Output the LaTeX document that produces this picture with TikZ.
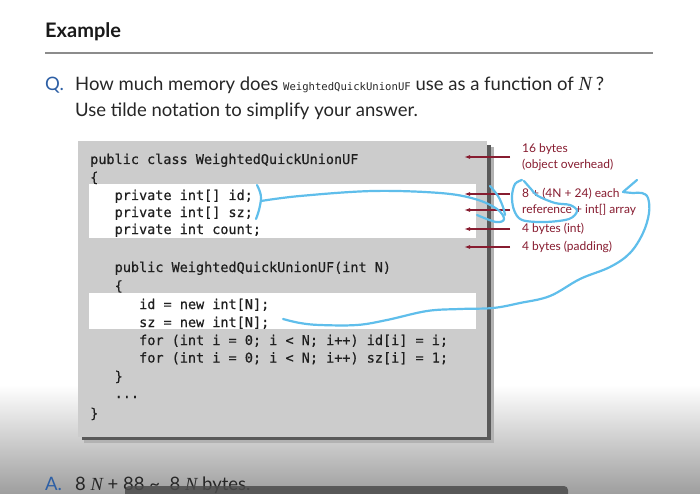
\documentclass[tikz,border=0pt]{standalone}
\usepackage{fontspec}
\setmainfont{Lato}
\newfontfamily\codefont[FakeBold=0.5]{DejaVu Sans Mono}
\newfontfamily\smallcode{DejaVu Sans Mono}
\newfontfamily\varfont{Liberation Serif}
\usetikzlibrary{arrows.meta}

\definecolor{boxgray}{RGB}{204,204,204}
\definecolor{memred}{RGB}{135,28,48}
\definecolor{qblue}{RGB}{45,95,165}
\definecolor{pen}{RGB}{95,190,235}

\tikzset{
  codeline/.style={anchor=base west, inner sep=0pt, font=\codefont\fontsize{13.5}{16}\selectfont, text=black!88},
  memlabel/.style={anchor=west, inner sep=0pt, align=left, font=\fontsize{12}{16}\selectfont, text=memred},
  memarrow/.style={draw=memred, line width=1.3pt, -{Latex[length=6pt,width=4pt]}},
  slidetext/.style={anchor=base west, inner sep=0pt, font=\fontsize{18.5}{22}\selectfont, text=black!85},
  penstroke/.style={draw=pen, line width=2.2pt, line cap=round, line join=round}
}

\begin{document}
\begin{tikzpicture}[x=1pt,y=-1pt]
\useasboundingbox (0,0) rectangle (700,494);
\fill[white] (0,0) rectangle (700,494);
\shade[top color=white, bottom color=black!38] (0,385) rectangle (700,494);

% heading and rule
\node[anchor=base west, inner sep=0pt, font=\fontsize{20}{24}\selectfont\bfseries, text=black!90] (title) at (45,38) {Example};
\draw[black!45, line width=1.2pt] (45,53) -- (653,53);

% question
\node[slidetext, text=qblue] (q) at (45,91) {Q.};
\node[slidetext] (qline) at (75,91) {How much memory does {\smallcode\fontsize{10.6}{12}\selectfont WeightedQuickUnionUF} use as a~function of~{\varfont\itshape\fontsize{20}{22}\selectfont N}\hspace{4pt}?};
\node[slidetext] (qline2) at (75,117) {Use tilde notation to simplify your answer.};

% code panel with drop shadow
\fill[black!30] (84,147) rectangle (494,443);
\fill[black!65] (82,145) rectangle (491,440);
\fill[boxgray] (78,141) rectangle (487,437);
\fill[white] (89,184) rectangle (476,238);
\fill[white] (89,293) rectangle (476,329);

\node[codeline] (c1)  at (90,164)    {public class WeightedQuickUnionUF};
\node[codeline] (c2)  at (90,182)    {\{};
\node[codeline] (c3)  at (114.5,200) {private int[] id;};
\node[codeline] (c4)  at (114.5,217) {private int[] sz;};
\node[codeline] (c5)  at (114.5,234) {private int count;};
\node[codeline] (c6)  at (114.5,272) {public WeightedQuickUnionUF(int N)};
\node[codeline] (c7)  at (114.5,290.5) {\{};
\node[codeline] (c8)  at (139,309)   {id = new int[N];};
\node[codeline] (c9)  at (139,327)   {sz = new int[N];};
\node[codeline] (c10) at (139,345)   {for (int i = 0; i < N; i++) id[i] = i;};
\node[codeline] (c11) at (139,362.5) {for (int i = 0; i < N; i++) sz[i] = 1;};
\node[codeline] (c12) at (114.5,381) {\}};
\node[codeline] (c13) at (114.5,398) {...};
\node[codeline] (c14) at (90,418)    {\}};

% memory annotations
\coordinate (tipx) at (464,0);
\node[memlabel] (m1) at (522,157) {16 bytes\\(object overhead)};
\node[memlabel] (m2) at (522,194) {8 + (4N + 24) each};
\node[memlabel] (m3) at (522,210) {reference + int[] array};
\node[memlabel] (m4) at (522,229) {4 bytes (int)};
\node[memlabel] (m5) at (522,247) {4 bytes (padding)};
\foreach \m in {m1,m2,m3,m4,m5}
  \draw[memarrow] ([xshift=-12pt]\m.west) -- (\m.west -| tipx);

% answer
\node[slidetext, text=qblue] (a) at (45,490) {A.};
\node[slidetext] (aline) at (75,490) {8 {\varfont\itshape N} + 88 \textasciitilde\ \ 8 {\varfont\itshape N} bytes.};

% caption bar
\fill[black!70, opacity=0.85, rounded corners=4pt] (125,486) rectangle (568,500);

% hand-drawn pen marks
\draw[penstroke] plot[smooth, tension=0.6] coordinates {(257,185) (260,192) (261,199) (259,210) (256,219)};
\draw[penstroke] plot[smooth, tension=0.6] coordinates {(261,201) (300,196) (373,191) (440,193) (475,199) (497,209) (504,219) (496,222) (477,215)};
\draw[penstroke] plot[smooth, tension=0.6] coordinates {(490,186) (498,196) (503,207) (505,215)};
\draw[penstroke] plot[smooth, tension=0.55] coordinates {(524,181) (531,189) (538,196) (555,203) (570,205) (577,211) (569,219) (545,222) (522,220) (514,210) (512,196) (515,184) (522,180)};
\draw[penstroke] plot[smooth, tension=0.6] coordinates {(283,319) (300,323) (320,325) (357,325) (387,320) (427,311) (460,309) (493,308) (520,303) (550,296) (580,279) (610,267) (630,253) (643,233) (649,213) (648,198) (642,193) (633,193) (623,192)};
\draw[penstroke] plot[smooth, tension=0.6] coordinates {(637,180) (630,186) (623,192)};
\end{tikzpicture}
\end{document}
